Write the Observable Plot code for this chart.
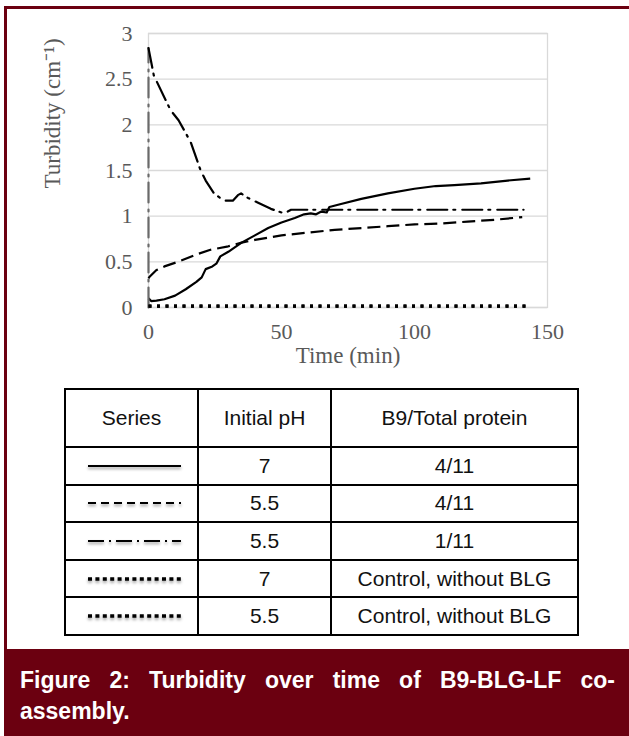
<!DOCTYPE html>
<html><head><meta charset="utf-8">
<script src="https://cdn.jsdelivr.net/npm/d3@7"></script>
<script src="https://cdn.jsdelivr.net/npm/@observablehq/plot@0.6"></script>
<style>
html,body{margin:0;padding:0;background:#fff;width:629px;height:736px;overflow:hidden;position:relative}
#frame{position:absolute;left:4px;top:6px;width:625px;height:730px;border-left:3px solid #6b0010;border-top:3px solid #6b0010;box-sizing:border-box}
#chart{position:absolute;left:0;top:0}
#legend{position:absolute;left:64px;top:388px;border-collapse:collapse;font-family:"Liberation Sans",Arial,sans-serif;font-size:21px;color:#111}
#legend td{border:2px solid #000;text-align:center;padding:0}
#caption{position:absolute;left:4px;top:649px;width:625px;height:87px;background:#6b0010;color:#fff;font:bold 23px "Liberation Sans",Arial,sans-serif;text-align:justify;line-height:31px;box-sizing:border-box;padding:16px 14px 0 16px}
</style></head><body>
<div id="frame"></div>
<div id="chart"></div>
<table id="legend"></table>
<div id="caption">Figure 2: Turbidity over time of B9-BLG-LF co-assembly.</div>
<script>
// ---- data ----
const xTicks = [0, 50, 100, 150];
const yTicks = [0, 0.5, 1, 1.5, 2, 2.5, 3];
const xLabel = "Time (min)";
const yLabel = "Turbidity (cm\u207B\u00B9)";

const seriesKeys = ["s1", "s2", "s3", "s4", "s5"];
const initialPH = ["7", "5.5", "5.5", "7", "5.5"];
const b9Ratio = ["4/11", "4/11", "1/11", "Control, without BLG", "Control, without BLG"];

// pH 7, B9/Total protein 4/11 (solid)
const s1Time = [0, 1, 3, 6, 10, 14, 18, 20, 21.5, 24, 25.5, 27, 30, 35, 40, 45, 50, 55, 58.5, 61, 63, 65, 67, 68, 72, 80, 90, 100, 108, 115, 125, 135, 143.5];
const s1Turb = [0.10, 0.07, 0.075, 0.09, 0.13, 0.2, 0.28, 0.33, 0.42, 0.45, 0.48, 0.56, 0.61, 0.71, 0.79, 0.87, 0.93, 0.98, 1.02, 1.03, 1.02, 1.05, 1.04, 1.1, 1.13, 1.19, 1.25, 1.3, 1.33, 1.34, 1.36, 1.39, 1.41];
// pH 5.5, 4/11 (dashed)
const s2Time = [0, 0.5, 3, 6, 12, 18, 23, 30, 35, 40, 50, 60, 70, 80, 90, 100, 110, 120, 130, 140.5];
const s2Turb = [0.32, 0.34, 0.41, 0.45, 0.51, 0.58, 0.63, 0.67, 0.71, 0.74, 0.79, 0.82, 0.85, 0.87, 0.89, 0.91, 0.92, 0.94, 0.96, 0.99];
// pH 5.5, 1/11 (dash-dot)
const s3Time = [0, 0, 2, 8.3, 11.3, 14, 16, 19.6, 21.5, 24.6, 28.3, 31.7, 33.6, 34.8, 37.4, 41, 46, 51, 53.6, 60, 80, 100, 120, 141];
const s3Turb = [0, 2.84, 2.54, 2.16, 2.05, 1.91, 1.8, 1.5, 1.39, 1.25, 1.17, 1.17, 1.23, 1.25, 1.2, 1.15, 1.08, 1.03, 1.07, 1.07, 1.07, 1.07, 1.07, 1.07];
// controls, without BLG (dotted)
const s4Time = [0, 143.5];
const s4Turb = [0.015, 0.015];
const s5Time = [0, 143.5];
const s5Turb = [0.015, 0.015];

// ---- styles ----
const plotDash = ["none", "13 6", "20 6 2 7", "3 5.5", "3 5.5"];
const plotWidth = [2.2, 2.2, 2.2, 3.2, 3.2];
const legendDash = ["none", "8 5", "16 5 2 5", "4 3.4", "4 3.4"];
const legendWidth = [2.2, 2, 2, 3.5, 3.5];

const times = [s1Time, s2Time, s3Time, s4Time, s5Time];
const turbs = [s1Turb, s2Turb, s3Turb, s4Turb, s5Turb];
const rows = seriesKeys.map((k, i) => times[i].map((t, j) => ({key: k, t, v: turbs[i][j]})));

const grey = "#595959";
const lineMarks = [];
rows.forEach((r, i) => {
  if (i === 2) {
    // initial vertical rise of the dash-dot series rendered lighter, as in the original
    lineMarks.push(Plot.line(r.slice(0, 2), {x: "t", y: "v", stroke: "#6a6a6a", strokeWidth: 2.2, strokeDasharray: plotDash[i]}));
    lineMarks.push(Plot.line(r.slice(1), {x: "t", y: "v", stroke: "#000", strokeWidth: plotWidth[i], strokeDasharray: plotDash[i], strokeLinejoin: "round"}));
  } else {
    lineMarks.push(Plot.line(r, {x: "t", y: "v", stroke: "#000", strokeWidth: plotWidth[i], strokeDasharray: plotDash[i], strokeLinecap: "butt", strokeLinejoin: "round"}));
  }
});

const chart = Plot.plot({
  width: 629, height: 380,
  marginLeft: 148, marginRight: 82, marginTop: 33, marginBottom: 73,
  style: {fontFamily: "'Liberation Serif', serif", fontSize: "22px", color: grey, background: "transparent", overflow: "visible"},
  x: {domain: [0, 150]},
  y: {domain: [0, 3]},
  marks: [
    Plot.gridY(yTicks, {stroke: "#d9d9d9", strokeOpacity: 1, strokeWidth: 1.3}),
    Plot.frame({stroke: "#d9d9d9", strokeWidth: 1.3}),
    Plot.axisX({ticks: xTicks, tickSize: 0, tickPadding: 16, label: null, tickFormat: d => String(d)}),
    Plot.axisY({ticks: yTicks, tickSize: 0, tickPadding: 16, label: null, tickFormat: d => String(d)}),
    Plot.text([xLabel], {text: d => d, frameAnchor: "bottom", dy: 48, lineAnchor: "middle", fontSize: 23, fill: grey}),
    Plot.text([yLabel], {text: d => d, frameAnchor: "left", dx: -96, dy: 18, rotate: -90, lineAnchor: "middle", fontSize: 23, fill: grey}),
    ...lineMarks
  ]
});
document.getElementById("chart").appendChild(chart);

// ---- legend table ----
const table = d3.select("#legend");
const header = table.append("tr").style("height", "58px");
[["Series", 133], ["Initial pH", 133], ["B9/Total protein", 247]].forEach(([h, w]) =>
  header.append("td").style("width", (w - 2) + "px").text(h));
seriesKeys.forEach((k, i) => {
  const tr = table.append("tr").style("height", "37.6px");
  const svg = tr.append("td").append("svg").attr("width", 110).attr("height", 14)
    .style("display", "block").style("margin", "0 auto")
    .style("filter", "drop-shadow(0 2px 1.5px rgba(0,0,0,0.4))");
  svg.append("line").attr("x1", 11).attr("x2", 104).attr("y1", 7).attr("y2", 7)
    .attr("stroke", "#000").attr("stroke-width", legendWidth[i])
    .attr("stroke-dasharray", legendDash[i]);
  tr.append("td").text(initialPH[i]);
  tr.append("td").text(b9Ratio[i]);
});
</script>
</body></html>
